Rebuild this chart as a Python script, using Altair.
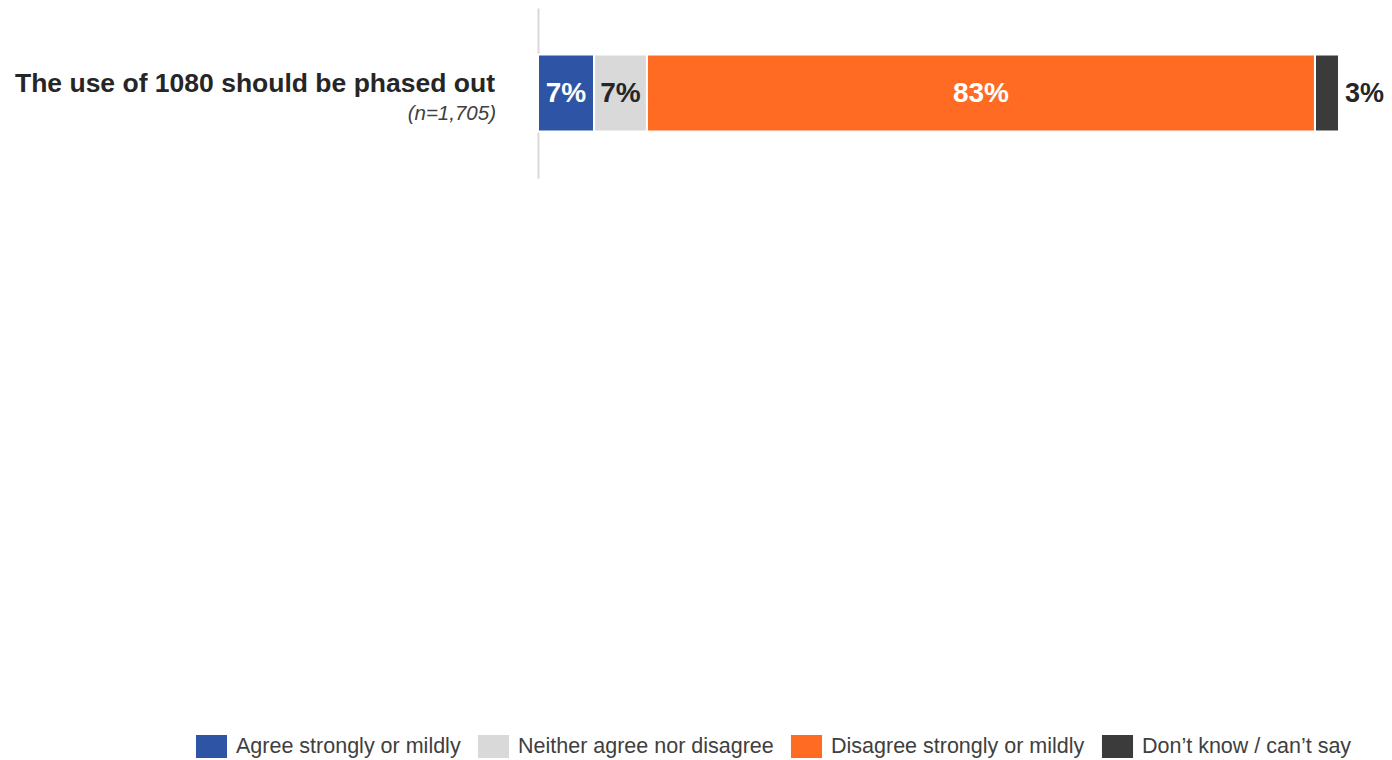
import altair as alt
import pandas as pd

statement = "The use of 1080 should be phased out"
sample = "(n=1,705)"
responses = ["Agree strongly or mildly", "Neither agree nor disagree",
             "Disagree strongly or mildly", "Don\u2019t know / can\u2019t say"]
values = [7.0, 6.6, 83.4, 3.0]
colors = ["#2E55A5", "#D9D9D9", "#FF6B22", "#3B3B3B"]
label_colors = ["#FFFFFF", "#262626", "#FFFFFF", "#262626"]

rows = []
cum = 0
for i, (r, v, lc) in enumerate(zip(responses, values, label_colors)):
    rows.append(dict(item=statement, response=r, value=v, start=cum, end=cum + v,
                     mid=cum + v / 2, order=i, label=f"{round(v)}%", lcolor=lc))
    cum += v
df = pd.DataFrame(rows)
meta = pd.DataFrame([dict(item=statement, n=sample)])

xs = alt.Scale(domain=[0, 100], nice=False, zero=True)
ys = alt.Scale(domain=[statement])

base = alt.Chart(df)

bars = base.mark_bar(size=77, stroke="white", strokeWidth=2).encode(
    x=alt.X("start:Q", scale=xs, axis=None),
    x2="end:Q",
    y=alt.Y("item:N", scale=ys,
            axis=alt.Axis(title=None, labels=False, ticks=False, domain=True,
                          domainColor="#D9D9D9", domainWidth=2, grid=False)),
    color=alt.Color("response:N",
                    scale=alt.Scale(domain=responses, range=colors),
                    legend=alt.Legend(
                        title=None, orient="none", direction="horizontal",
                        legendX=-338, legendY=727,
                        symbolType="M-1.35,-1H1.35V1H-1.35Z", symbolSize=529,
                        symbolStrokeWidth=0, symbolOpacity=1,
                        labelFont="Liberation Sans", labelFontSize=21.5,
                        labelColor="#404040", labelOffset=13, columnPadding=16,
                        labelLimit=400)),
    order="order:Q",
)

inside = base.transform_filter("datum.value >= 5").mark_text(
    font="Liberation Sans", fontSize=28, fontWeight="bold", align="center",
    baseline="middle", dy=1).encode(
    x=alt.X("mid:Q", scale=xs),
    y=alt.Y("item:N", scale=ys),
    text="label:N",
    color=alt.Color("lcolor:N", scale=None, legend=None),
)

outside = base.transform_filter("datum.value < 5").mark_text(
    font="Liberation Sans", fontSize=27, fontWeight="bold", align="left",
    baseline="middle", dx=6, dy=1, color="#262626").encode(
    x=alt.X("end:Q", scale=xs),
    y=alt.Y("item:N", scale=ys),
    text="label:N",
)

mbase = alt.Chart(meta)
title_txt = mbase.mark_text(font="Liberation Sans", fontSize=26.5, fontWeight="bold",
                            align="right", baseline="middle", dy=-9,
                            color="#262626").encode(
    x=alt.value(-43), y=alt.Y("item:N", scale=ys), text="item:N")
n_txt = mbase.mark_text(font="Liberation Sans", fontSize=20.5, fontStyle="italic",
                        align="right", baseline="middle", dy=21,
                        color="#404040").encode(
    x=alt.value(-42), y=alt.Y("item:N", scale=ys), text="n:N")

chart = alt.layer(bars, inside, outside, title_txt, n_txt).properties(
    width=801, height=170,
    autosize=alt.AutoSizeParams(type="none"),
    padding={"left": 530, "right": 45, "top": 0, "bottom": 600},
).configure(background="white").configure_view(stroke=None)

chart.save("out.html", embed_options={"renderer": "svg", "actions": False})
